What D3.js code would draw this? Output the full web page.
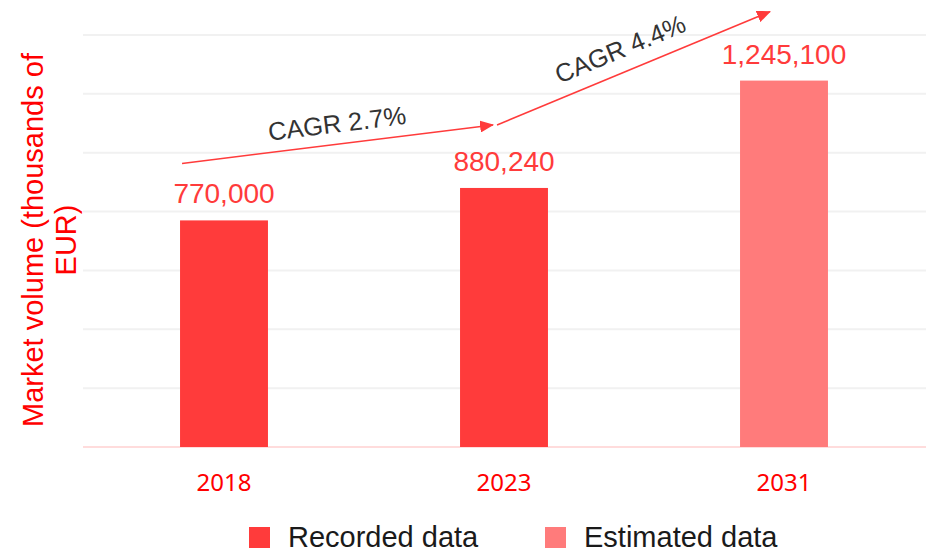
<!DOCTYPE html>
<html lang="en">
<head>
    <meta charset="UTF-8">
    <title>Market volume</title>
    <script src="https://d3js.org/d3.v7.min.js"></script>
    <style>
        body{
            margin: 0;
            background-color: white;
        }
        #canvas{
            display: block;
        }
        .value_label{
            font-family: "Liberation Sans", Arial, sans-serif;
            font-size: 28px;
            fill: #ff3b3b;
        }
        .cagr_label{
            font-family: "Liberation Sans", Arial, sans-serif;
            font-size: 25.5px;
            fill: #333333;
        }
        .year_label{
            font-family: "Noto Sans", "Open Sans", sans-serif;
            font-size: 24px;
            fill: #ff0000;
        }
        .legend_label{
            font-family: "Liberation Sans", Arial, sans-serif;
            font-size: 29px;
            fill: #1a1a1a;
        }
        .axis_title{
            font-family: "Liberation Sans", Arial, sans-serif;
            font-size: 29px;
            fill: #ff0000;
        }
    </style>
</head>
<body>

<svg id="canvas" width="926" height="549"></svg>

<script>
    // chart data
    let years = ["2018", "2023", "2031"];
    let volumes = [770000, 880240, 1245100];
    let kinds = ["Recorded data", "Recorded data", "Estimated data"];
    let legendItems = ["Recorded data", "Estimated data"];
    let cagrLabels = ["CAGR 2.7%", "CAGR 4.4%"];
    let cagrFrom = ["2018", "2023"];
    let cagrTo = ["2023", "2031"];

    let colors = {"Recorded data": "#ff3b3b", "Estimated data": "#ff7b7b"};

    let svg = d3.select('svg');

    let xScale = d3.scaleBand()
        .domain(years)
        .range([84, 924])
        .paddingInner(0.686)
        .paddingOuter(0.343);

    let yScale = d3.scaleLinear()
        .domain([0, 1400000])
        .range([447, 35]);

    let volumeOf = {};
    years.forEach(function (y, i){ volumeOf[y] = volumes[i]; });

    // gridlines
    svg.append('g')
        .selectAll('line')
        .data(yScale.ticks(7))
        .enter()
        .append('line')
        .attr("x1", 83)
        .attr("x2", 926)
        .attr("y1", function (d){ return yScale(d); })
        .attr("y2", function (d){ return yScale(d); })
        .attr("stroke", function (d){ return d === 0 ? "#ffdcdc" : "#f1f1f1"; })
        .attr("stroke-width", 2);

    // bars
    svg.append('g')
        .selectAll('rect')
        .data(years)
        .enter()
        .append('rect')
        .attr("x", function (d){ return xScale(d); })
        .attr("y", function (d){ return yScale(volumeOf[d]); })
        .attr("width", xScale.bandwidth())
        .attr("height", function (d){ return yScale(0) - yScale(volumeOf[d]); })
        .attr("fill", function (d, i){ return colors[kinds[i]]; });

    // value labels
    svg.append('g')
        .selectAll('text')
        .data(years)
        .enter()
        .append('text')
        .attr("class", "value_label")
        .attr("text-anchor", "middle")
        .attr("x", function (d){ return xScale(d) + xScale.bandwidth() / 2; })
        .attr("y", function (d){ return yScale(volumeOf[d]) - 17; })
        .text(function (d){ return d3.format(",")(volumeOf[d]); });

    // year labels
    svg.append('g')
        .selectAll('text')
        .data(years)
        .enter()
        .append('text')
        .attr("class", "year_label")
        .attr("text-anchor", "middle")
        .attr("x", function (d){ return xScale(d) + xScale.bandwidth() / 2; })
        .attr("y", 491)
        .text(function (d){ return d; });

    // CAGR arrows
    svg.append('defs').append('marker')
        .attr("id", "arrowhead")
        .attr("markerUnits", "userSpaceOnUse")
        .attr("viewBox", "0 0 14 12")
        .attr("markerWidth", 14)
        .attr("markerHeight", 12)
        .attr("refX", 13)
        .attr("refY", 6)
        .attr("orient", "auto")
        .append('path')
        .attr("d", "M0,0 L14,6 L0,12 Z")
        .attr("fill", "#ff3b3b");

    // arrow ends sit above the bars they connect
    let startPoint = [
        [xScale(cagrFrom[0]) + 2, yScale(volumeOf[cagrFrom[0]]) - 57],
        [xScale(cagrFrom[1]) + 37, yScale(volumeOf[cagrFrom[1]]) - 63]
    ];
    let endPoint = [
        [xScale(cagrTo[0]) + 33, yScale(volumeOf[cagrTo[0]]) - 63],
        [xScale(cagrTo[1]) + 30, yScale(volumeOf[cagrTo[1]]) - 69]
    ];

    let arrows = svg.append('g');
    cagrLabels.forEach(function (label, i){
        let p0 = startPoint[i], p1 = endPoint[i];
        arrows.append('line')
            .attr("x1", p0[0]).attr("y1", p0[1])
            .attr("x2", p1[0]).attr("y2", p1[1])
            .attr("stroke", "#ff3b3b")
            .attr("stroke-width", 1.5)
            .attr("marker-end", "url(#arrowhead)");

        let angle = Math.atan2(p1[1] - p0[1], p1[0] - p0[0]);
        let mx = (p0[0] + p1[0]) / 2, my = (p0[1] + p1[1]) / 2;
        // shift the label off the line, to the upper side
        let off = 21;
        let tx = mx + off * Math.sin(angle) - 8 * Math.cos(angle) * i + 2;
        let ty = my - off * Math.cos(angle);
        arrows.append('text')
            .attr("class", "cagr_label")
            .attr("text-anchor", "middle")
            .attr("dominant-baseline", "central")
            .attr("transform", "translate(" + tx + "," + ty + ") rotate(" + (angle * 180 / Math.PI) + ")")
            .text(label);
    });

    // y axis title
    let title = svg.append('text')
        .attr("class", "axis_title")
        .attr("text-anchor", "middle")
        .attr("transform", "translate(43,240) rotate(-90)");
    title.append('tspan').attr("x", 0).attr("dy", 0).text("Market volume (thousands of");
    title.append('tspan').attr("x", 0).attr("dy", 33).text("EUR)");

    // legend
    let legendX = [249, 545];
    let legend = svg.append('g')
        .selectAll('g')
        .data(legendItems)
        .enter()
        .append('g')
        .attr("transform", function (d, i){ return "translate(" + legendX[i] + ",527)"; });
    legend.append('rect')
        .attr("width", 21)
        .attr("height", 21)
        .attr("fill", function (d){ return colors[d]; });
    legend.append('text')
        .attr("class", "legend_label")
        .attr("x", 39)
        .attr("y", 20)
        .text(function (d){ return d; });

</script>

</body>
</html>
